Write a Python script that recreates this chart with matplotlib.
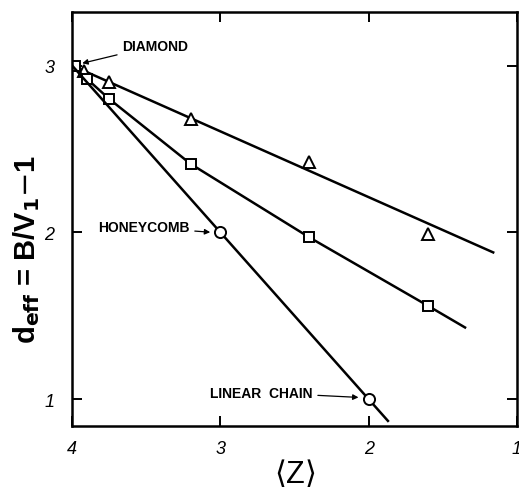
import matplotlib
matplotlib.use('Agg')
import matplotlib.pyplot as plt

plt.rcParams['font.family'] = ['Liberation Sans', 'DejaVu Sans']

# data
tri_z = [3.92, 3.75, 3.2, 2.4, 1.6]
tri_d = [2.97, 2.90, 2.68, 2.42, 1.99]
tri_fit_z = [4.0, 1.16]
tri_fit_d = [3.0, 1.88]

sq_z = [3.98, 3.9, 3.75, 3.2, 2.4, 1.6]
sq_d = [3.0, 2.92, 2.80, 2.41, 1.97, 1.56]
sq_line_z = [4.0, 3.9, 3.75, 3.2, 2.4, 1.6, 1.35]
sq_line_d = [3.0, 2.92, 2.80, 2.41, 1.97, 1.56, 1.43]

circ_z = [3.0, 2.0]
circ_d = [2.0, 1.0]
circ_line_z = [4.0, 1.87]
circ_line_d = [3.0, 0.87]

xticks = [4, 3, 2, 1]
yticks = [1, 2, 3]

fig = plt.figure(figsize=(5.19, 4.89), dpi=100)
ax = fig.add_axes([0.139, 0.127, 0.857, 0.846])

lw = 1.8
ax.plot(tri_fit_z, tri_fit_d, color='black', lw=lw)
ax.plot(tri_z, tri_d, ls='none', marker='^', ms=9, mfc='white', mec='black', mew=1.4)

ax.plot(sq_line_z, sq_line_d, color='black', lw=lw)
ax.plot(sq_z, sq_d, ls='none', marker='s', ms=7.5, mfc='white', mec='black', mew=1.4)

ax.plot(circ_line_z, circ_line_d, color='black', lw=lw)
ax.plot(circ_z, circ_d, ls='none', marker='o', ms=8, mfc='white', mec='black', mew=1.4)

# labels with arrows
akw = dict(fontsize=10, fontweight='bold', va='center')
ap = dict(arrowstyle='-|>', color='black', lw=0.9, mutation_scale=8)
ax.annotate('DIAMOND', xy=(3.95, 3.01), xytext=(3.66, 3.12), ha='left', arrowprops=ap, **akw)
ax.annotate('HONEYCOMB', xy=(3.05, 2.0), xytext=(3.21, 2.03), ha='right', arrowprops=ap, **akw)
ax.annotate('LINEAR  CHAIN', xy=(2.05, 1.01), xytext=(2.38, 1.04), ha='right', arrowprops=ap, **akw)

ax.set_xlim(4, 1)
ax.set_ylim(0.84, 3.32)
ax.set_xticks(xticks)
ax.set_yticks(yticks)
ax.tick_params(direction='in', length=7, width=1.4, top=True, right=True, labelsize=13)
ax.tick_params(axis='x', pad=10)
ax.tick_params(axis='y', pad=13)
for lab in ax.get_xticklabels() + ax.get_yticklabels():
    lab.set_fontstyle('italic')
for s in ax.spines.values():
    s.set_linewidth(1.8)

ax.set_xlabel(r'$\langle$Z$\rangle$', fontsize=22, labelpad=0)
ax.set_ylabel(r'd$_{\mathbf{eff}}$ = B/V$_{\mathbf{1}}$$-$1', fontsize=21, fontweight='bold')
ax.yaxis.set_label_coords(-0.068, 0.43)

fig.savefig('out.png', dpi=100)
